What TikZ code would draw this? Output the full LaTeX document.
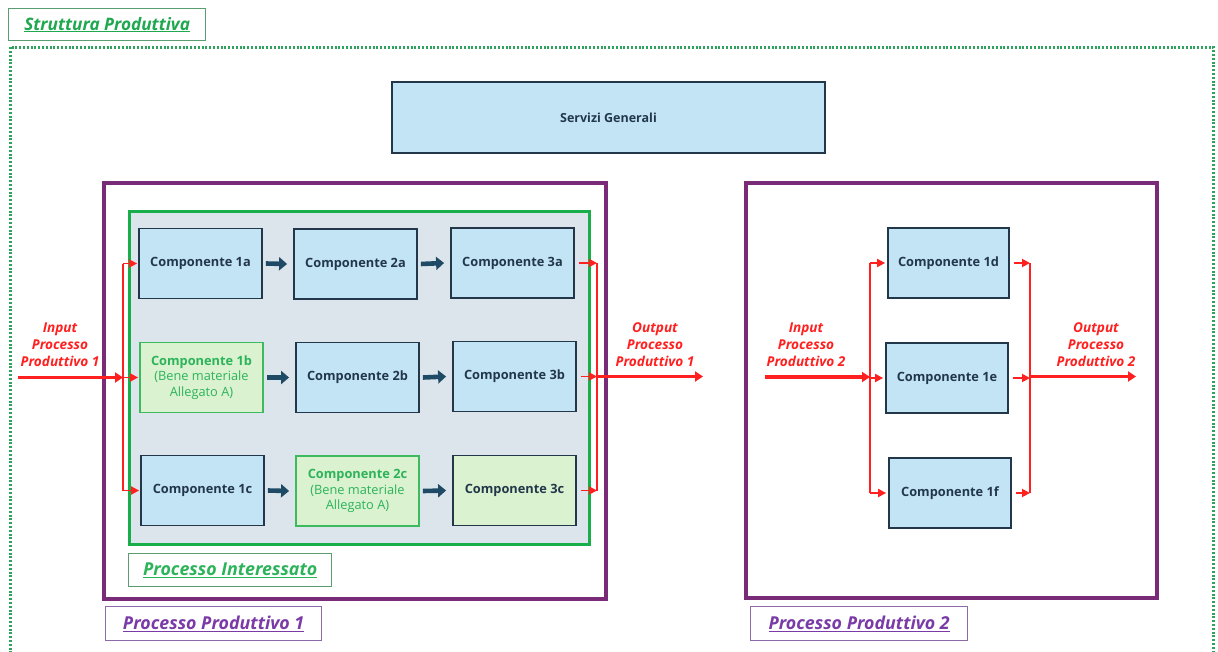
\documentclass[tikz,border=0pt]{standalone}
\usepackage{fontspec}
\setmainfont{Open Sans}
\usetikzlibrary{arrows.meta}
\definecolor{titlegreen}{HTML}{1FA84F}
\definecolor{framegreen}{HTML}{5A9E6F}
\definecolor{dotgreen}{HTML}{2FA35E}
\definecolor{procgreen}{HTML}{18AE4A}
\definecolor{procfill}{HTML}{DCE5EC}
\definecolor{compfill}{HTML}{C3E4F5}
\definecolor{compline}{HTML}{22384A}
\definecolor{compgreen}{HTML}{DAF2D0}
\definecolor{greenline}{HTML}{3DBA5E}
\definecolor{greentext}{HTML}{2DB35A}
\definecolor{purplebox}{HTML}{7A2B78}
\definecolor{purpletext}{HTML}{7A3BA8}
\definecolor{purpleframe}{HTML}{8E6BA8}
\definecolor{flowred}{HTML}{FF2020}
\definecolor{darkarrow}{HTML}{1E4A66}
\tikzset{
  comp/.style={draw=compline, fill=compfill, line width=1.8pt, minimum width=123pt,
    minimum height=70pt, inner sep=0pt, align=center, text=compline,
    font=\fontsize{12.8}{15.5}\selectfont\bfseries},
  compg/.style={comp, draw=greenline, fill=compgreen, text=greentext},
  compgd/.style={comp, fill=compgreen},
  darr/.style={draw=darkarrow, line width=4.6pt, -{Triangle[length=8pt,width=13pt]}},
  rline/.style={draw=flowred, line width=1.8pt},
  rarr/.style={rline, -{Triangle[length=8pt,width=8pt]}},
  rbig/.style={draw=flowred, line width=3.6pt, -{Triangle[length=8pt,width=10pt]}},
  rlabel/.style={text=flowred, align=center, font=\fontsize{13.6}{17}\selectfont\bfseries\itshape},
  tag/.style={draw, line width=1.3pt, inner sep=0pt, anchor=north west},
  tagtext/.style={font=\fontsize{17.8}{20}\selectfont\bfseries\itshape},
}
\begin{document}
\begin{tikzpicture}[x=1pt,y=-1pt]
\useasboundingbox (0,0) rectangle (1218,651);
\fill[white] (0,0) rectangle (1218,651);

% outer production structure
\draw[dotgreen, line width=3pt, dash pattern=on 2pt off 1.8pt] (10,680) -- (10,47) -- (1213,47) -- (1213,680);
\node[tag, draw=framegreen, minimum width=197pt, minimum height=32pt] (tstruct) at (8,8) {};
\node[tagtext, text=titlegreen, font=\fontsize{17.2}{20}\selectfont\bfseries\itshape] at (tstruct.center) {\underline{Struttura Produttiva}};

% general services
\node[draw=compline, fill=compfill, line width=1.8pt, minimum width=433pt, minimum height=71pt,
  font=\fontsize{12.5}{14}\selectfont\bfseries, text=compline] (serv) at (608.5,117.5) {Servizi Generali};

% productive process 1
\draw[purplebox, line width=3.4pt] (104,183) rectangle (606,599);
\draw[procgreen, fill=procfill, line width=3pt] (129,211) rectangle (589,544);
\node[tag, draw=framegreen, minimum width=203pt, minimum height=33pt] (tint) at (128,553) {};
\node[tagtext, text=greentext] at (tint.center) {\underline{Processo Interessato}};
\node[tag, draw=purpleframe, minimum width=216pt, minimum height=34pt] (tpp1) at (105,606) {};
\node[tagtext, text=purpletext] at (tpp1.center) {\underline{Processo Produttivo 1}};

\node[comp] (c1a) at (200.5,263.5) {Componente 1a};
\node[comp] (c2a) at (355.5,264) {Componente 2a};
\node[comp] (c3a) at (512.5,263) {Componente 3a};
\node[compg, font=\fontsize{12.8}{15.5}\selectfont] (c1b) at (201.5,377.5) {\textbf{Componente 1b}\\(Bene materiale\\Allegato A)};
\node[comp] (c2b) at (357.5,377.5) {Componente 2b};
\node[comp] (c3b) at (514.5,376.5) {Componente 3b};
\node[comp] (c1c) at (202.5,490.5) {Componente 1c};
\node[compg, font=\fontsize{12.8}{15.5}\selectfont] (c2c) at (357.5,491) {\textbf{Componente 2c}\\(Bene materiale\\Allegato A)};
\node[compgd] (c3c) at (514.5,490.5) {Componente 3c};

\foreach \a/\b in {c1a/c2a,c2a/c3a,c1b/c2b,c2b/c3b,c1c/c2c,c2c/c3c}
  \draw[darr] ([xshift=3pt]\a.east) -- ([xshift=-6pt]\b.west);

% flows of process 1
\coordinate (in1) at (18,377.5);
\coordinate (v1) at (123,0);
\coordinate (v2) at (597,0);
\coordinate (out1) at (703,376.5);
\node[rlabel] (lin1) at (60,345) {Input\\Processo\\Produttivo 1};
\node[rlabel] (lout1) at (655,345) {Output\\Processo\\Produttivo 1};
\draw[rbig] (in1) -- (v1 |- in1);
\draw[rline] (v1 |- c1a.west) -- (v1 |- c1c.west);
\foreach \n in {c1a,c1b,c1c}
  \draw[rarr] (v1 |- \n.west) -- ([xshift=-1pt]\n.west);
\draw[rline] (v2 |- c3a.east) -- (v2 |- c3c.east);
\foreach \n in {c3a,c3b,c3c}
  \draw[rarr] ([xshift=4pt]\n.east) -- (v2 |- \n.east);
\draw[rbig] (v2 |- out1) -- (out1);

% productive process 2
\draw[purplebox, line width=3.4pt] (746,183) rectangle (1157,598);
\node[tag, draw=purpleframe, minimum width=217pt, minimum height=34pt] (tpp2) at (750,606) {};
\node[tagtext, text=purpletext] at (tpp2.center) {\underline{Processo Produttivo 2}};

\node[comp, minimum width=121pt] (c1d) at (948.5,263) {Componente 1d};
\node[comp, minimum width=122pt] (c1e) at (947,378) {Componente 1e};
\node[comp, minimum width=122pt] (c1f) at (950,493) {Componente 1f};

\coordinate (in2) at (765,377);
\coordinate (v3) at (870,0);
\coordinate (v4) at (1030,0);
\coordinate (out2) at (1136,376.5);
\node[rlabel] (lin2) at (806,345) {Input\\Processo\\Produttivo 2};
\node[rlabel] (lout2) at (1096,345) {Output\\Processo\\Produttivo 2};
\draw[rbig] (in2) -- (v3 |- in2);
\draw[rline] (v3 |- c1d.west) -- (v3 |- c1f.west);
\foreach \n in {c1d,c1e,c1f}
  \draw[rarr] (v3 |- \n.west) -- ([xshift=-2pt]\n.west);
\draw[rline] (v4 |- c1d.east) -- (v4 |- c1f.east);
\foreach \n in {c1d,c1e,c1f}
  \draw[rarr] ([xshift=4pt]\n.east) -- (v4 |- \n.east);
\draw[rbig] (v4 |- out2) -- (out2);
\end{tikzpicture}
\end{document}
